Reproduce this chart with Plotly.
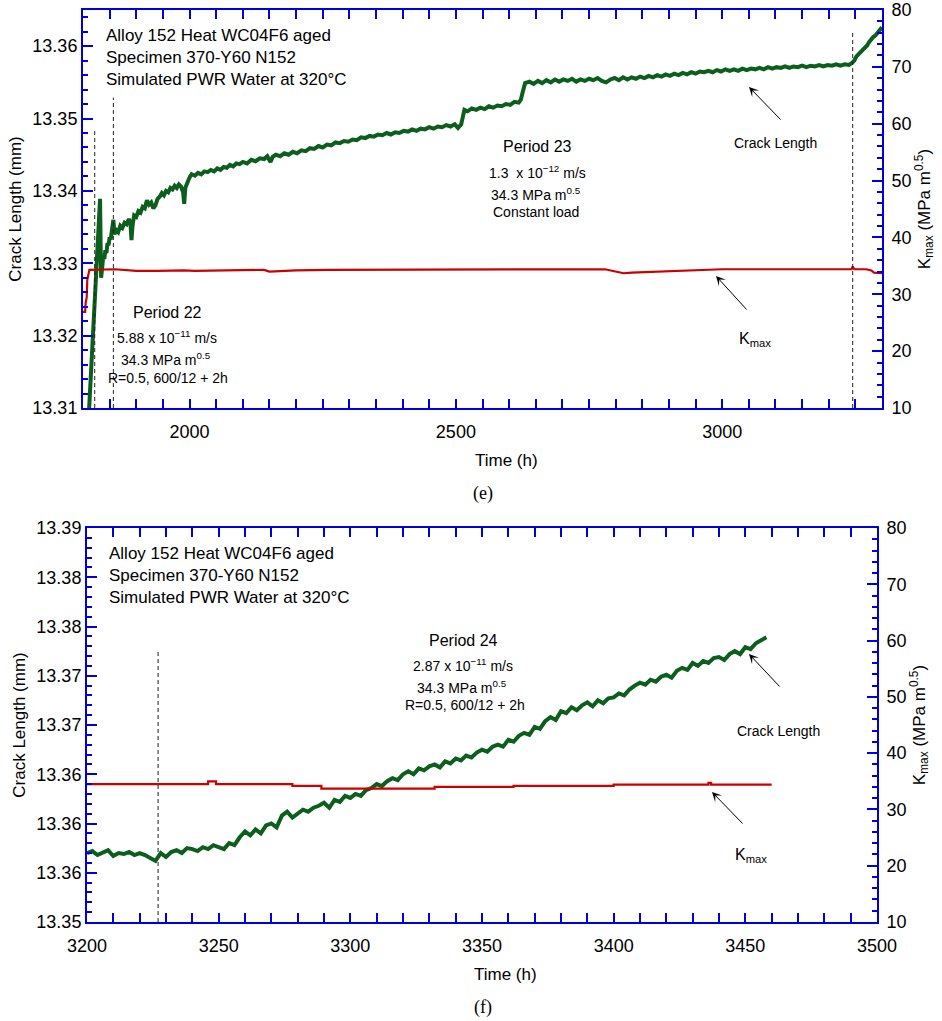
import plotly.graph_objects as go

# ---------------- Panel (e) data ----------------
e_time = [1811, 1813, 1815, 1817, 1819, 1821, 1823, 1825, 1827, 1829, 1831, 1832, 1833, 1834, 1836, 1838,
          1840, 1842, 1844, 1846, 1848, 1850, 1852, 1855, 1857, 1859, 1862, 1866, 1870, 1874, 1878, 1882,
          1886, 1889, 1891, 1893, 1896, 1900, 1904, 1908, 1912, 1916, 1920, 1924, 1928, 1932, 1936, 1940,
          1944, 1948, 1952, 1956, 1960, 1964, 1968, 1972, 1976, 1980, 1984, 1988, 1990, 1992, 1995, 1998,
          2001, 2004, 2010, 2016, 2022, 2028, 2034, 2040, 2046, 2052, 2058, 2064, 2070, 2076, 2082, 2088,
          2094, 2100, 2108, 2116, 2124, 2132, 2140, 2146, 2152, 2156, 2162, 2170, 2178, 2186, 2194, 2202,
          2210, 2218, 2226, 2234, 2242, 2250, 2258, 2266, 2274, 2282, 2290, 2298, 2306, 2314, 2322, 2330,
          2338, 2346, 2354, 2362, 2370, 2378, 2386, 2394, 2402, 2410, 2418, 2426, 2434, 2442, 2450, 2458,
          2466, 2474, 2482, 2490, 2498, 2504, 2510, 2513, 2516, 2522, 2530, 2538, 2546, 2554, 2562, 2570,
          2578, 2586, 2594, 2602, 2610, 2618, 2622, 2626, 2630, 2638, 2646, 2654, 2662, 2670, 2678, 2686,
          2694, 2702, 2710, 2718, 2726, 2734, 2742, 2750, 2758, 2766, 2774, 2782, 2790, 2798, 2806, 2814,
          2822, 2830, 2838, 2846, 2854, 2862, 2870, 2878, 2886, 2894, 2902, 2910, 2918, 2926, 2934, 2942,
          2950, 2958, 2966, 2974, 2982, 2990, 2998, 3006, 3014, 3022, 3030, 3038, 3046, 3054, 3062, 3070,
          3078, 3086, 3094, 3102, 3110, 3118, 3126, 3134, 3142, 3150, 3158, 3166, 3174, 3182, 3190, 3198,
          3206, 3214, 3222, 3230, 3238, 3244, 3248, 3252, 3256, 3260, 3264, 3268, 3272, 3276, 3280, 3284,
          3288, 3292, 3296, 3300]
e_crack = [13.3092, 13.3120, 13.3150, 13.3178, 13.3205, 13.3240, 13.3272, 13.3300, 13.3325, 13.3350, 13.3372,
           13.3389, 13.3330, 13.3280, 13.3294, 13.3310, 13.3306, 13.3318, 13.3314, 13.3328, 13.3325, 13.3336,
           13.3333, 13.3345, 13.3360, 13.3340, 13.3346, 13.3343, 13.3352, 13.3349, 13.3356, 13.3354, 13.3361,
           13.3356, 13.3332, 13.3352, 13.3366, 13.3364, 13.3372, 13.3370, 13.3378, 13.3376, 13.3387, 13.3381,
           13.3384, 13.3376, 13.3380, 13.3389, 13.3392, 13.3397, 13.3394, 13.3400, 13.3398, 13.3404, 13.3402,
           13.3407, 13.3404, 13.3409, 13.3406, 13.3398, 13.3382, 13.3404, 13.3412, 13.3415, 13.3420, 13.3423,
           13.3421, 13.3425, 13.3423, 13.3427, 13.3426, 13.3429, 13.3427, 13.3431, 13.3429, 13.3433, 13.3432,
           13.3436, 13.3434, 13.3438, 13.3437, 13.3440, 13.3438, 13.3443, 13.3441, 13.3445, 13.3444, 13.3448,
           13.3440, 13.3447, 13.3450, 13.3448, 13.3452, 13.3450, 13.3454, 13.3452, 13.3456, 13.3455, 13.3459,
           13.3458, 13.3462, 13.3460, 13.3464, 13.3463, 13.3467, 13.3466, 13.3469, 13.3468, 13.3471, 13.3470,
           13.3474, 13.3473, 13.3476, 13.3475, 13.3478, 13.3477, 13.3480, 13.3478, 13.3481, 13.3480, 13.3483,
           13.3482, 13.3485, 13.3483, 13.3486, 13.3485, 13.3488, 13.3486, 13.3489, 13.3488, 13.3491, 13.3489,
           13.3492, 13.3487, 13.3492, 13.3504, 13.3512, 13.3510, 13.3514, 13.3512, 13.3515, 13.3513, 13.3517,
           13.3515, 13.3518, 13.3517, 13.3520, 13.3519, 13.3523, 13.3522, 13.3526, 13.3538, 13.3549, 13.3551,
           13.3548, 13.3552, 13.3549, 13.3553, 13.3550, 13.3554, 13.3551, 13.3554, 13.3552, 13.3555, 13.3551,
           13.3554, 13.3552, 13.3555, 13.3553, 13.3556, 13.3552, 13.3550, 13.3554, 13.3556, 13.3553, 13.3557,
           13.3554, 13.3557, 13.3555, 13.3558, 13.3556, 13.3559, 13.3557, 13.3560, 13.3558, 13.3561, 13.3559,
           13.3562, 13.3560, 13.3563, 13.3561, 13.3564, 13.3562, 13.3565, 13.3564, 13.3566, 13.3564, 13.3567,
           13.3565, 13.3568, 13.3566, 13.3568, 13.3566, 13.3569, 13.3567, 13.3569, 13.3568, 13.3570, 13.3568,
           13.3571, 13.3569, 13.3571, 13.3570, 13.3572, 13.3570, 13.3572, 13.3571, 13.3573, 13.3571, 13.3573,
           13.3572, 13.3574, 13.3572, 13.3574, 13.3573, 13.3575, 13.3573, 13.3575, 13.3574, 13.3577, 13.3580,
           13.3586, 13.3589, 13.3592, 13.3596, 13.3599, 13.3601, 13.3606, 13.3610, 13.3613, 13.3615, 13.3619,
           13.3622, 13.3626]

e_k_time = [1800, 1804, 1805, 1807, 1808, 1810, 1812, 1860, 1880, 1900, 1940, 1990, 2010, 2060, 2100, 2140,
            2150, 2170, 2200, 2260, 2320, 2400, 2500, 2560, 2620, 2700, 2780, 2795, 2815, 2830, 2860, 2900,
            2950, 3000, 3100, 3200, 3243, 3245, 3248, 3270, 3280, 3285, 3300]
e_kmax = [26.9, 26.9, 28.5, 29.5, 32.5, 33.9, 34.3, 34.4, 34.3, 34.1, 34.1, 34.2, 34.1, 34.2, 34.3, 34.3,
          34.0, 34.1, 34.2, 34.3, 34.3, 34.4, 34.4, 34.4, 34.4, 34.4, 34.4, 34.1, 33.7, 33.8, 33.9, 34.1,
          34.3, 34.4, 34.4, 34.4, 34.4, 34.9, 34.4, 34.4, 34.2, 33.8, 33.7]

e_period_t = [1822, 1857, 3245]
e_period_top = [13.3485, 13.3529, 13.3619]

# ---------------- Panel (f) data ----------------
f_time = [3200, 3202, 3204, 3206, 3208, 3210, 3212, 3214, 3216, 3218, 3220, 3222, 3224, 3226, 3228, 3230,
          3232, 3234, 3236, 3238, 3240, 3242, 3244, 3246, 3248, 3250, 3252, 3254, 3256, 3258, 3260, 3262,
          3264, 3266, 3268, 3270, 3272, 3274, 3276, 3278, 3280, 3282, 3284, 3286, 3288, 3290, 3292, 3294,
          3296, 3298, 3300, 3302, 3304, 3306, 3308, 3310, 3312, 3314, 3316, 3318, 3320, 3322, 3324, 3326,
          3328, 3330, 3332, 3334, 3336, 3338, 3340, 3342, 3344, 3346, 3348, 3350, 3352, 3354, 3356, 3358,
          3360, 3362, 3364, 3366, 3368, 3370, 3372, 3374, 3376, 3378, 3380, 3382, 3384, 3386, 3388, 3390,
          3392, 3394, 3396, 3398, 3400, 3402, 3404, 3406, 3408, 3410, 3412, 3414, 3416, 3418, 3420, 3422,
          3424, 3426, 3428, 3430, 3432, 3434, 3436, 3438, 3440, 3442, 3444, 3446, 3448, 3450, 3452, 3454,
          3456, 3458]
f_crack = [13.3570, 13.3572, 13.3568, 13.3570, 13.3573, 13.3567, 13.3570, 13.3569, 13.3571, 13.3568, 13.3570,
           13.3568, 13.3565, 13.3562, 13.3570, 13.3566, 13.3571, 13.3573, 13.3570, 13.3575, 13.3574, 13.3572,
           13.3576, 13.3574, 13.3578, 13.3576, 13.3574, 13.3580, 13.3578, 13.3586, 13.3592, 13.3588, 13.3594,
           13.3590, 13.3598, 13.3600, 13.3596, 13.3608, 13.3612, 13.3606, 13.3610, 13.3614, 13.3612, 13.3616,
           13.3618, 13.3621, 13.3616, 13.3624, 13.3622, 13.3628, 13.3626, 13.3630, 13.3628, 13.3634, 13.3636,
           13.3640, 13.3638, 13.3643, 13.3646, 13.3644, 13.3650, 13.3653, 13.3650, 13.3656, 13.3654, 13.3658,
           13.3660, 13.3657, 13.3663, 13.3661, 13.3666, 13.3664, 13.3669, 13.3667, 13.3672, 13.3675, 13.3673,
           13.3678, 13.3680, 13.3678, 13.3685, 13.3683, 13.3689, 13.3692, 13.3690, 13.3698, 13.3696, 13.3704,
           13.3708, 13.3705, 13.3714, 13.3712, 13.3718, 13.3715, 13.3720, 13.3723, 13.3719, 13.3725, 13.3722,
           13.3727, 13.3728, 13.3732, 13.3730, 13.3736, 13.3740, 13.3743, 13.3741, 13.3746, 13.3744, 13.3749,
           13.3751, 13.3748, 13.3755, 13.3758, 13.3756, 13.3763, 13.3760, 13.3765, 13.3763, 13.3768, 13.3769,
           13.3766, 13.3772, 13.3775, 13.3772, 13.3779, 13.3777, 13.3783, 13.3786, 13.3789]

f_k_time = [3200, 3245, 3246, 3248, 3249, 3276, 3278, 3287, 3289, 3330, 3332, 3360, 3362, 3400, 3435, 3436,
            3437, 3460]
f_kmax = [34.5, 34.5, 35.0, 35.0, 34.5, 34.5, 34.2, 34.2, 33.7, 33.7, 34.0, 34.0, 34.2, 34.4, 34.4, 34.7,
          34.4, 34.4]

f_period_t = [3227]
f_period_top = [13.3776]

# ---------------- Tick labels ----------------
e_left_ticks = [13.31, 13.32, 13.33, 13.34, 13.35, 13.36]
f_left_tickvals = [13.350, 13.355, 13.360, 13.365, 13.370, 13.375, 13.380, 13.385, 13.390]
f_left_ticktext = ["13.35", "13.36", "13.36", "13.36", "13.37", "13.37", "13.38", "13.38", "13.39"]

GREEN = "#0b5e1c"
RED = "#cc0000"
AX = "#0000dd"
FONT = "Liberation Sans, Arial, sans-serif"
W, H = 942, 1021

fig = go.Figure()

fig.add_trace(go.Scatter(x=e_time, y=e_crack, mode="lines", line=dict(color=GREEN, width=4),
                         xaxis="x", yaxis="y", showlegend=False))
fig.add_trace(go.Scatter(x=e_k_time, y=e_kmax, mode="lines", line=dict(color=RED, width=2.2, shape="linear"),
                         xaxis="x", yaxis="y2", showlegend=False))
fig.add_trace(go.Scatter(x=f_time, y=f_crack, mode="lines", line=dict(color=GREEN, width=4),
                         xaxis="x2", yaxis="y3", showlegend=False))
fig.add_trace(go.Scatter(x=f_k_time, y=f_kmax, mode="lines", line=dict(color=RED, width=2.2, shape="hv"),
                         xaxis="x2", yaxis="y4", showlegend=False))

# period boundary dashed lines
for t, top in zip(e_period_t, e_period_top):
    fig.add_shape(type="line", xref="x", yref="y", x0=t, x1=t, y0=13.31, y1=top,
                  line=dict(color="#222222", width=1, dash="4px,3px"))
for t, top in zip(f_period_t, f_period_top):
    fig.add_shape(type="line", xref="x2", yref="y3", x0=t, x1=t, y0=13.35, y1=top,
                  line=dict(color="#444444", width=1.2, dash="4px,3px"))

tickfont = dict(family=FONT, size=18, color="black")
titlefont = dict(family=FONT, size=17, color="black")

def minor(d, t0):
    return dict(dtick=d, tick0=t0, ticks="inside", ticklen=5, tickcolor=AX, tickwidth=1.5)

base = dict(showline=True, linecolor=AX, linewidth=2, ticks="inside", tickcolor=AX, tickwidth=1.5,
            showgrid=False, zeroline=False, tickfont=tickfont, automargin=False)

fig.update_layout(
    width=W, height=H, autosize=False,
    margin=dict(l=0, r=0, t=0, b=0),
    paper_bgcolor="white", plot_bgcolor="white",
    xaxis=dict(domain=[83 / W, 882 / W], anchor="y", range=[1800, 3300], tick0=0, dtick=500, ticklen=9,
               mirror="allticks", minor=minor(50, 0), ticklabelstandoff=6, **base),
    yaxis=dict(domain=[1 - 408 / H, 1 - 10 / H], anchor="x", range=[13.31, 13.365],
               tickmode="array", tickvals=e_left_ticks, ticktext=[f"{v:.2f}" for v in e_left_ticks],
               ticklen=10, minor=minor(0.002, 13.31),
               title=dict(text="Crack Length (mm)", font=titlefont, standoff=6), **base),
    yaxis2=dict(overlaying="y", side="right", anchor="x", range=[10, 80], tick0=10, dtick=10, ticklen=10,
                minor=minor(2, 10), ticklabelstandoff=4,
                title=dict(text="K<sub>max</sub> (MPa m<sup>0.5</sup>)", font=titlefont, standoff=6), **base),
    xaxis2=dict(domain=[87 / W, 877 / W], anchor="y3", range=[3200, 3500], tick0=0, dtick=50, ticklen=9,
                mirror="allticks", minor=minor(10, 0), ticklabelstandoff=6, **base),
    yaxis3=dict(domain=[1 - 922 / H, 1 - 528 / H], anchor="x2", range=[13.35, 13.39],
                tickmode="array", tickvals=f_left_tickvals, ticktext=f_left_ticktext,
                ticklen=10, minor=minor(0.001, 13.35),
                title=dict(text="Crack Length (mm)", font=titlefont, standoff=6), **base),
    yaxis4=dict(overlaying="y3", side="right", anchor="x2", range=[10, 80], tick0=10, dtick=10, ticklen=10,
                minor=minor(2, 10), ticklabelstandoff=4,
                title=dict(text="K<sub>max</sub> (MPa m<sup>0.5</sup>)", font=titlefont, standoff=6), **base),
)

def txt(px, py, text, size, anchor="center", family=FONT):
    fig.add_annotation(x=px / W, y=1 - py / H, xref="paper", yref="paper", text=text, showarrow=False,
                       xanchor=anchor, yanchor="middle", font=dict(family=family, size=size, color="black"))

def arrow(hx, hy, tx, ty):
    fig.add_annotation(x=hx / W, y=1 - hy / H, xref="paper", yref="paper", text="", showarrow=True,
                       ax=tx - hx, ay=ty - hy, arrowhead=3, arrowsize=1.6, arrowwidth=1, arrowcolor="black",
                       font=dict(family=FONT, size=12))

# Panel (e) texts
txt(104, 35, "Alloy 152 Heat WC04F6 aged", 17, "left")
txt(104, 58, "Specimen 370-Y60 N152", 17, "left")
txt(104, 80, "Simulated PWR Water at 320°C", 17, "left")
txt(537, 146, "Period 23", 16)
txt(537, 172, "1.3  x 10<sup>−12</sup> m/s", 14)
txt(536, 194, "34.3 MPa m<sup>0.5</sup>", 14)
txt(536, 212, "Constant load", 14)
txt(775, 143, "Crack Length", 14)
txt(755, 339, "K<sub>max</sub>", 16)
txt(167, 312, "Period 22", 16)
txt(167, 337, "5.88 x 10<sup>−11</sup> m/s", 14)
txt(166, 359, "34.3 MPa m<sup>0.5</sup>", 14)
txt(168, 378, "R=0.5, 600/12 + 2h", 14)
arrow(749, 87, 782, 121)
arrow(716, 276, 748, 311)
txt(506, 460, "Time (h)", 17)
txt(483, 494, "(e)", 18, "center", "Liberation Serif, Times New Roman, serif")

# Panel (f) texts
txt(107, 553, "Alloy 152 Heat WC04F6 aged", 17, "left")
txt(107, 575, "Specimen 370-Y60 N152", 17, "left")
txt(107, 597, "Simulated PWR Water at 320°C", 17, "left")
txt(463, 640, "Period 24", 16)
txt(463, 665, "2.87 x 10<sup>−11</sup> m/s", 14)
txt(462, 687, "34.3 MPa m<sup>0.5</sup>", 14)
txt(465, 705, "R=0.5, 600/12 + 2h", 14)
txt(778, 731, "Crack Length", 14)
txt(751, 855, "K<sub>max</sub>", 16)
arrow(749, 654, 781, 688)
arrow(712, 792, 744, 825)
txt(505, 974, "Time (h)", 17)
txt(483, 1007, "(f)", 18, "center", "Liberation Serif, Times New Roman, serif")

fig.write_html("out.html")
